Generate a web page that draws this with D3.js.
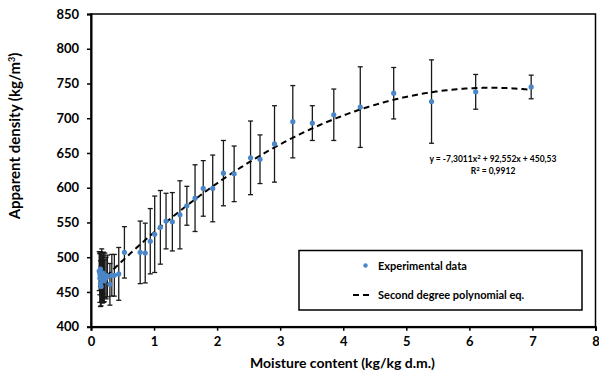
<!DOCTYPE html>
<html>
<head>
<meta charset="utf-8">
<script src="https://cdn.jsdelivr.net/npm/d3@7"></script>
<style>
  body { margin: 0; background: #fff; }
  text { font-family: Lato, "Open Sans", sans-serif; font-weight: bold; fill: #000; }
</style>
</head>
<body>
<div id="chart"></div>
<script>
// moisture content (kg/kg d.m.)
const moisture = [0.13, 0.14, 0.14, 0.15, 0.15, 0.16, 0.17, 0.18, 0.19, 0.20, 0.21, 0.22, 0.24, 0.26, 0.30, 0.33, 0.37, 0.44,
    0.53, 0.78, 0.86, 0.94, 1.01, 1.10, 1.19, 1.29, 1.41, 1.52, 1.65, 1.78, 1.93, 2.10, 2.27, 2.53, 2.68, 2.91,
    3.20, 3.51, 3.85, 4.27, 4.80, 5.40, 6.10, 6.98];
// apparent density (kg/m3)
const density = [480, 476, 470, 462, 483, 458, 474, 468, 477, 471, 466, 474, 470, 473, 461, 474, 474, 476,
    507, 507, 506, 523, 533, 543, 552, 551, 561, 574, 585, 599, 599, 621, 620, 643, 641, 663,
    695, 693, 705, 716, 736, 724, 738, 745];
// standard deviation
const deviation = [28, 30, 35, 33, 25, 28, 38, 34, 30, 36, 30, 32, 30, 30, 30, 30, 30, 38,
    37, 45, 43, 47, 55, 53, 40, 42, 49, 28, 48, 40, 48, 47, 40, 53, 35, 55,
    52, 25, 37, 58, 37, 60, 25, 17];
// trendline y = a x^2 + b x + c
const coefs = [-7.3011, 92.552, 450.53];
const xTicks = [0, 1, 2, 3, 4, 5, 6, 7, 8];
const yTicks = [400, 450, 500, 550, 600, 650, 700, 750, 800, 850];

const width = 599;
const height = 376;
const margin = {top: 14, left: 91, right: 3.5, bottom: 49.3};

const svg = d3.select("#chart")
    .append("svg")
    .attr("width", width)
    .attr("height", height);

const xScale = d3.scaleLinear()
    .domain([0, 8])
    .range([margin.left, width - margin.right]);
const yScale = d3.scaleLinear()
    .domain([400, 850])
    .range([height - margin.bottom, margin.top]);

const points = moisture.map(function(m, i) {
    return {x: m, y: density[i], sd: deviation[i]};
});

// plot frame
svg.append("rect")
    .attr("x", xScale(0))
    .attr("y", yScale(850))
    .attr("width", xScale(8) - xScale(0))
    .attr("height", yScale(400) - yScale(850))
    .attr("fill", "none")
    .attr("stroke", "#000")
    .attr("stroke-width", 1.5);

const xAxis = svg.append("g")
    .attr("transform", `translate(0,${yScale(400)})`)
    .call(d3.axisBottom(xScale).tickValues(xTicks).tickSize(4).tickPadding(6));
const yAxis = svg.append("g")
    .attr("transform", `translate(${xScale(0)},0)`)
    .call(d3.axisLeft(yScale).tickValues(yTicks).tickSize(4).tickPadding(8));

svg.selectAll(".domain").attr("stroke", "#000").attr("stroke-width", 2);
svg.selectAll(".tick line").attr("stroke", "#000").attr("stroke-width", 1.5);
svg.selectAll(".tick text")
    .style("font-family", "Lato, sans-serif")
    .style("font-weight", "bold")
    .style("font-size", "13px")
    .attr("fill", "#000");

// error bars
const bars = svg.append("g")
    .attr("stroke", "#1a1a1a")
    .attr("stroke-width", 1.3);
bars.selectAll("line.bar")
    .data(points)
    .enter()
    .append("line")
        .attr("class", "bar")
        .attr("x1", function(d) { return xScale(d.x); })
        .attr("x2", function(d) { return xScale(d.x); })
        .attr("y1", function(d) { return yScale(d.y + d.sd); })
        .attr("y2", function(d) { return yScale(d.y - d.sd); });
bars.selectAll("line.capTop")
    .data(points)
    .enter()
    .append("line")
        .attr("class", "capTop")
        .attr("x1", function(d) { return xScale(d.x) - 2.5; })
        .attr("x2", function(d) { return xScale(d.x) + 2.5; })
        .attr("y1", function(d) { return yScale(d.y + d.sd); })
        .attr("y2", function(d) { return yScale(d.y + d.sd); });
bars.selectAll("line.capBottom")
    .data(points)
    .enter()
    .append("line")
        .attr("class", "capBottom")
        .attr("x1", function(d) { return xScale(d.x) - 2.5; })
        .attr("x2", function(d) { return xScale(d.x) + 2.5; })
        .attr("y1", function(d) { return yScale(d.y - d.sd); })
        .attr("y2", function(d) { return yScale(d.y - d.sd); });

// polynomial trendline
const xs = d3.range(0.13, 6.98, 0.02).concat([6.98]);
const line = d3.line()
    .x(function(d) { return xScale(d); })
    .y(function(d) { return yScale(coefs[0] * d * d + coefs[1] * d + coefs[2]); });
svg.append("path")
    .datum(xs)
    .attr("d", line)
    .attr("fill", "none")
    .attr("stroke", "#000")
    .attr("stroke-width", 2)
    .attr("stroke-dasharray", "6,4");

// data points
svg.selectAll("circle.pt")
    .data(points)
    .enter()
    .append("circle")
        .attr("class", "pt")
        .attr("cx", function(d) { return xScale(d.x); })
        .attr("cy", function(d) { return yScale(d.y); })
        .attr("r", 2.6)
        .attr("fill", "#4a86c8");

// equation
svg.append("text")
    .attr("x", 493)
    .attr("y", 162)
    .attr("text-anchor", "middle")
    .style("font-size", "8.5px")
    .html("y = -7,3011x<tspan dy='-3' font-size='6px'>2</tspan><tspan dy='3'> + 92,552x + 450,53</tspan>");
svg.append("text")
    .attr("x", 493)
    .attr("y", 174)
    .attr("text-anchor", "middle")
    .style("font-size", "8.5px")
    .html("R<tspan dy='-3' font-size='6px'>2</tspan><tspan dy='3'> = 0,9912</tspan>");

// legend
const legend = svg.append("g");
legend.append("rect")
    .attr("x", 299)
    .attr("y", 250.5)
    .attr("width", 283)
    .attr("height", 59.5)
    .attr("fill", "#fff")
    .attr("stroke", "#000")
    .attr("stroke-width", 1.5);
legend.append("circle")
    .attr("cx", 365.5)
    .attr("cy", 265.5)
    .attr("r", 2.2)
    .attr("fill", "#4a86c8");
legend.append("text")
    .attr("x", 378)
    .attr("y", 269.5)
    .style("font-size", "11px")
    .text("Experimental data");
legend.append("line")
    .attr("x1", 353)
    .attr("x2", 372)
    .attr("y1", 295)
    .attr("y2", 295)
    .attr("stroke", "#000")
    .attr("stroke-width", 2)
    .attr("stroke-dasharray", "6,4");
legend.append("text")
    .attr("x", 378)
    .attr("y", 299)
    .style("font-size", "11px")
    .text("Second degree polynomial eq.");

// axis labels
svg.append("text")
    .attr("x", 342.5)
    .attr("y", 368)
    .attr("text-anchor", "middle")
    .style("font-size", "14px")
    .text("Moisture content (kg/kg d.m.)");
svg.append("text")
    .attr("transform", "rotate(-90)")
    .attr("x", -136)
    .attr("y", 20)
    .attr("text-anchor", "middle")
    .style("font-size", "15px")
    .html("Apparent density (kg/m<tspan dy='-5' font-size='9px'>3</tspan><tspan dy='5'>)</tspan>");
</script>
</body>
</html>
